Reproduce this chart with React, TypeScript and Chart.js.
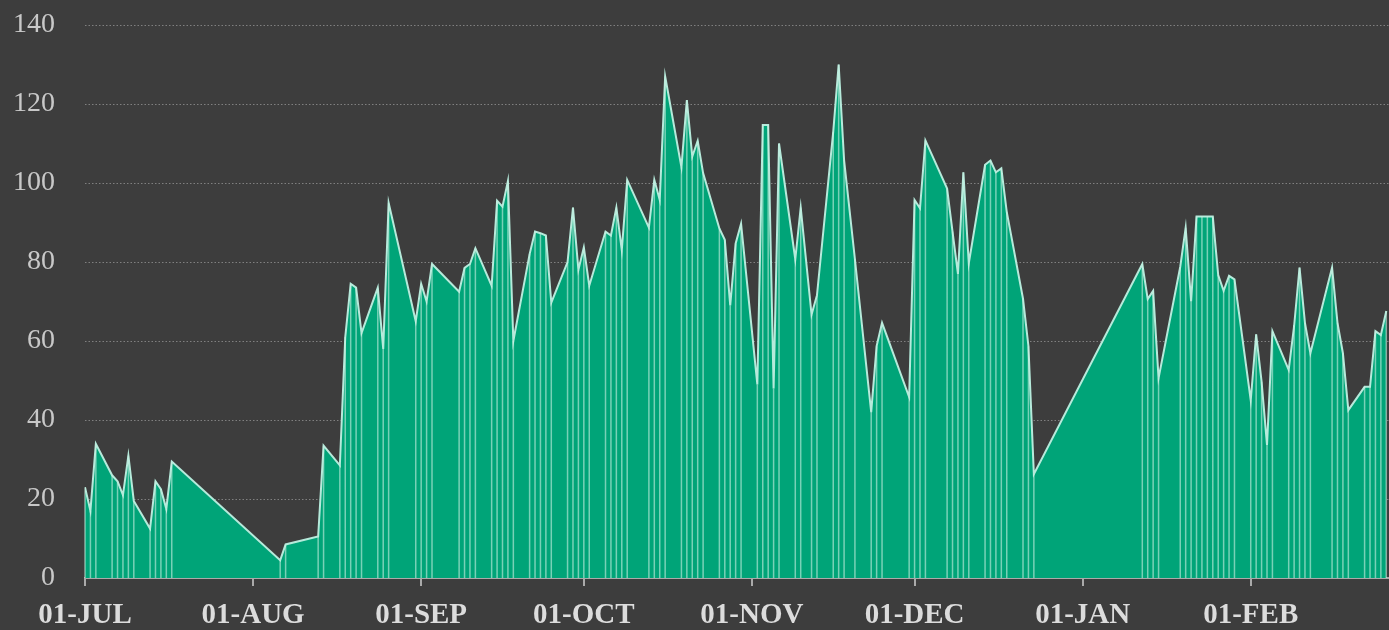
import React, { useEffect, useRef } from "react";
import { Chart, registerables } from "chart.js";

Chart.register(...registerables);

// Day offsets from 01-JUL
const days = [
  0, 1, 2, 5, 6, 7, 8, 9, 12, 13, 14, 15, 16, 36, 37, 43, 44, 47, 48, 49, 50, 51, 54, 55, 56,
  61, 62, 63, 64, 69, 70, 71, 72, 75, 76, 77, 78, 79, 82, 83, 84, 85, 86, 89, 90, 91, 92, 93,
  96, 97, 98, 99, 100, 104, 105, 106, 107, 110, 111, 112, 113, 114, 117, 118, 119, 120, 121,
  124, 125, 126, 127, 128, 131, 132, 134, 135, 138, 139, 140, 142, 145, 146, 147, 152, 153,
  154, 155, 159, 160, 161, 162, 163, 166, 167, 168, 169, 170, 173, 174, 175, 195, 196, 197,
  198, 202, 203, 204, 205, 206, 207, 208, 209, 210, 211, 212, 215, 216, 217, 218, 219, 222,
  223, 224, 225, 226, 230, 231, 232, 233, 236, 237, 238, 239, 240,
];

const values = [
  23, 17, 34, 26, 24.5, 21, 31, 19.5, 12.5, 24.5, 22.5, 17.5, 29.5, 4.5, 8.5, 10.5, 33.5, 28.5,
  61, 74.5, 73.5, 62, 73.5, 58, 95, 65, 74.5, 70, 79.5, 72.5, 78.5, 79.5, 83.5, 74, 95.5, 94,
  100.5, 60, 82, 87.7, 87.3, 86.7, 69.7, 80, 93.8, 78, 83.7, 74, 87.7, 86.7, 93.8, 83, 100.8,
  88.7, 100.8, 95.7, 127, 104, 121, 106.7, 110.7, 102.5, 88.5, 85.6, 69, 84.7, 89.7, 49, 114.7,
  114.7, 48, 110, 80.7, 93.8, 66.7, 71.6, 113, 130, 105.8, 80.7, 42, 58.7, 64.6, 45.8, 95.7,
  93.6, 110.8, 98.6, 87.7, 77, 102.7, 79.7, 104.6, 105.7, 102.7, 103.7, 92.7, 70.7, 58.7, 26.3,
  79.5, 70.6, 72.7, 50.6, 78.8, 88.7, 70, 91.5, 91.5, 91.5, 91.5, 76.7, 72.7, 76.5, 75.6, 45,
  61.7, 49.7, 33.7, 62.5, 52.7, 63.8, 78.6, 64.6, 56.9, 78.6, 64.6, 56.9, 42.5, 48.4, 48.4,
  62.5, 61.5, 67.6,
];

const monthTickDays = [0, 31, 62, 92, 123, 153, 184, 215];
const monthTickLabels = ["01-JUL", "01-AUG", "01-SEP", "01-OCT", "01-NOV", "01-DEC", "01-JAN", "01-FEB"];

const FONT = "'Liberation Serif', 'Times New Roman', serif";

const dropLines = {
  id: "dropLines",
  afterDatasetsDraw(chart: any) {
    const meta = chart.getDatasetMeta(0);
    const yBase = chart.scales.y.getPixelForValue(0);
    const ctx = chart.ctx;
    ctx.save();
    ctx.strokeStyle = "rgba(200, 240, 225, 0.6)";
    ctx.lineWidth = 1.5;
    ctx.beginPath();
    meta.data.forEach((pt: any) => {
      ctx.moveTo(pt.x, pt.y);
      ctx.lineTo(pt.x, yBase);
    });
    ctx.stroke();
    ctx.restore();
  },
};

export default function App() {
  const ref = useRef<HTMLCanvasElement | null>(null);

  useEffect(() => {
    document.body.style.margin = "0";
    if (!ref.current) return;
    const chart = new Chart(ref.current, {
      type: "line",
      data: {
        datasets: [
          {
            data: days.map((d, i) => ({ x: d, y: values[i] })),
            fill: "origin",
            backgroundColor: "#00a478",
            borderColor: "#b6eadb",
            borderWidth: 2,
            pointRadius: 0,
            tension: 0,
          },
        ],
      },
      options: {
        animation: false,
        responsive: false,
        events: [],
        layout: { padding: { top: 25, right: 0, left: 0, bottom: 0 } },
        plugins: { legend: { display: false }, tooltip: { enabled: false } },
        scales: {
          x: {
            type: "linear",
            min: 0,
            max: 240.5,
            afterBuildTicks: (scale: any) => {
              scale.ticks = monthTickDays.map((v) => ({ value: v }));
            },
            afterFit: (scale: any) => {
              scale.height = 52;
              scale.paddingLeft = 0;
              scale.paddingRight = 0;
            },
            ticks: {
              autoSkip: false,
              maxRotation: 0,
              color: "#dcdcdc",
              padding: 12,
              font: { family: FONT, size: 29, weight: "bold" },
              callback: (v: any) => {
                const i = monthTickDays.indexOf(Number(v));
                return i >= 0 ? monthTickLabels[i] : "";
              },
            },
            grid: {
              drawOnChartArea: false,
              drawTicks: true,
              tickLength: 8,
              color: "#aaaaaa",
              lineWidth: 2,
            },
            border: { display: true, color: "#aaaaaa", width: 2 },
          },
          y: {
            min: 0,
            max: 140,
            afterFit: (scale: any) => {
              scale.width = 85;
              scale.paddingTop = 0;
              scale.paddingBottom = 0;
            },
            ticks: {
              stepSize: 20,
              color: "#c8c8c8",
              padding: 30,
              font: { family: FONT, size: 28 },
            },
            grid: {
              drawTicks: false,
              color: "#808080",
              lineWidth: 1,
            },
            border: { display: false, dash: [1.5, 2] },
          },
        },
      },
      plugins: [dropLines],
    });
    return () => chart.destroy();
  }, []);

  return (
    <div style={{ width: 1389, height: 630, background: "#3d3d3d" }}>
      <canvas ref={ref} width={1389} height={630} />
    </div>
  );
}
